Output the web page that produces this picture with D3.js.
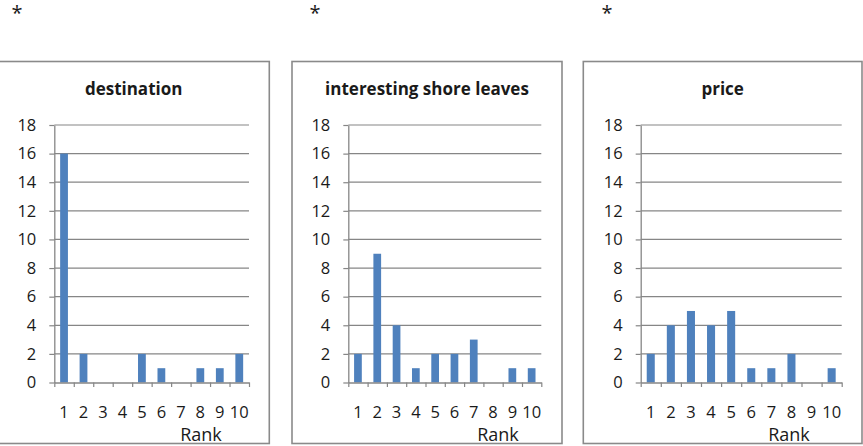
<!DOCTYPE html>
<html>
<head>
<meta charset="utf-8">
<script src="https://cdn.jsdelivr.net/npm/d3@7"></script>
<style>
  html, body { margin: 0; padding: 0; background: #fff; }
  svg { display: block; }
  text { font-family: "Open Sans", "DejaVu Sans", sans-serif; fill: #1a1a1a; }
</style>
</head>
<body>
<svg id="chart" width="863" height="446"></svg>
<script>
// Rank categories shared by all three charts
const ranks = ["1", "2", "3", "4", "5", "6", "7", "8", "9", "10"];

// Number of responses per rank for each attribute
const destinationCounts = [16, 2, 0, 0, 2, 1, 0, 1, 1, 2];
const shoreLeaveCounts  = [2, 9, 4, 1, 2, 2, 3, 0, 1, 1];
const priceCounts       = [2, 4, 5, 4, 5, 1, 1, 2, 0, 1];

const chartTitles = ["destination", "interesting shore leaves", "price"];
const yTicks = [0, 2, 4, 6, 8, 10, 12, 14, 16, 18];
const xAxisTitle = "Rank";

const series = [destinationCounts, shoreLeaveCounts, priceCounts];

// Frame and plot-area placement of each small chart
const panels = [
  { boxL: -2,    boxR: 269.3, plotL: 54.3,  plotR: 249,   star: 17,  rankX: 201 },
  { boxL: 292,   boxR: 562,   plotL: 348.3, plotR: 541.3, star: 315, rankX: 498 },
  { boxL: 583.3, boxR: 862,   plotL: 640.7, plotR: 841.7, star: 607, rankX: 789 }
];
const boxTop = 61.5, boxBottom = 443.5;
const plotTop = 125, plotBottom = 382.5;

const gridColor = "#868686";
const barColor = "#4f81bd";

const svg = d3.select("#chart");

const y = d3.scaleLinear().domain([0, 18]).range([plotBottom, plotTop]);

panels.forEach((p, i) => {
  const g = svg.append("g");
  const values = series[i];

  // marker above each chart
  g.append("text")
    .attr("x", p.star).attr("y", 20)
    .attr("text-anchor", "middle")
    .style("font-size", "20px")
    .text("*");

  // chart frame
  g.append("rect")
    .attr("x", p.boxL).attr("y", boxTop)
    .attr("width", p.boxR - p.boxL).attr("height", boxBottom - boxTop)
    .attr("fill", "none")
    .attr("stroke", "#8a8a8a")
    .attr("stroke-width", 1.6);

  // title
  g.append("text")
    .attr("x", (p.boxL + p.boxR) / 2).attr("y", 95)
    .attr("text-anchor", "middle")
    .style("font-size", "17px")
    .style("font-weight", "bold")
    .text(chartTitles[i]);

  const x = d3.scaleBand()
    .domain(ranks)
    .range([p.plotL, p.plotR])
    .paddingInner(0.6)
    .paddingOuter(0.3);

  // horizontal gridlines
  g.append("g")
    .selectAll("line")
    .data(yTicks.filter(t => t > 0))
    .join("line")
    .attr("x1", p.plotL).attr("x2", p.plotR)
    .attr("y1", d => y(d)).attr("y2", d => y(d))
    .attr("stroke", gridColor)
    .attr("stroke-width", 1.2);

  // bars
  g.append("g")
    .selectAll("rect")
    .data(values.map((v, k) => ({ rank: ranks[k], v })))
    .join("rect")
    .attr("x", d => x(d.rank))
    .attr("width", x.bandwidth())
    .attr("y", d => y(d.v))
    .attr("height", d => y(0) - y(d.v))
    .attr("fill", barColor);

  // y axis with outward ticks
  const yAxis = g.append("g")
    .attr("transform", `translate(${p.plotL},0)`)
    .call(d3.axisLeft(y).tickValues(yTicks).tickSize(5).tickPadding(13).tickSizeOuter(0));
  yAxis.select(".domain").attr("stroke", gridColor).attr("stroke-width", 1.3);
  yAxis.selectAll(".tick line").attr("stroke", gridColor).attr("stroke-width", 1.2);
  yAxis.selectAll(".tick text")
    .style("font-size", "16.5px")
    .style("font-family", "\"Open Sans\", sans-serif")
    .attr("fill", "#111");

  // x axis: boundary tick marks between categories
  const xb = d3.scaleLinear().domain([0, ranks.length]).range([p.plotL, p.plotR]);
  const xAxisMarks = g.append("g")
    .attr("transform", `translate(0,${plotBottom})`)
    .call(d3.axisBottom(xb).ticks(ranks.length).tickSize(4.5).tickFormat("").tickSizeOuter(0));
  xAxisMarks.select(".domain").attr("stroke", gridColor).attr("stroke-width", 1.3);
  xAxisMarks.selectAll(".tick line").attr("stroke", gridColor).attr("stroke-width", 1.2);

  // x axis category labels
  const xLabels = g.append("g")
    .attr("transform", `translate(0,${plotBottom})`)
    .call(d3.axisBottom(x).tickSize(0).tickPadding(24));
  xLabels.select(".domain").remove();
  xLabels.selectAll(".tick text")
    .style("font-size", "16.5px")
    .style("font-family", "\"Open Sans\", sans-serif")
    .attr("fill", "#111");

  // axis title
  g.append("text")
    .attr("x", p.rankX).attr("y", 441)
    .attr("text-anchor", "middle")
    .style("font-size", "18px")
    .text(xAxisTitle);
});
</script>
</body>
</html>
